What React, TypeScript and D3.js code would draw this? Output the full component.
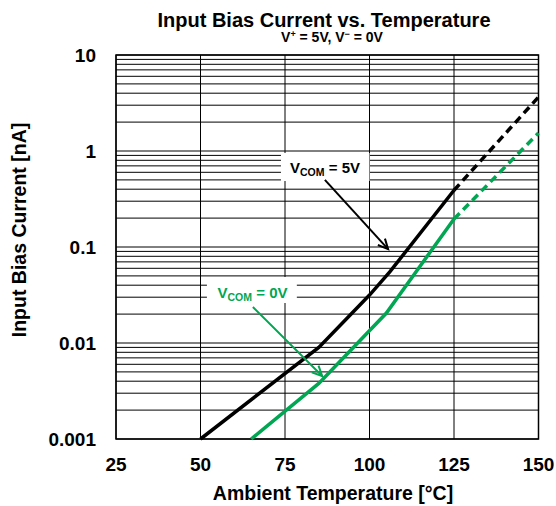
import * as d3 from 'd3';

const W = 556;
const H = 506;
const left = 116;
const right = 538.5;
const top = 55;
const bottom = 439;

// V_COM = 5V (black)
const tempBlack = [50, 85, 100, 106, 125];
const biasBlack = [0.001, 0.009, 0.0316, 0.055, 0.39];
const tempBlackDash = [125, 150];
const biasBlackDash = [0.39, 3.65];

// V_COM = 0V (green)
const tempGreen = [65, 85, 105, 125];
const biasGreen = [0.001, 0.0038, 0.0205, 0.196];
const tempGreenDash = [125, 150];
const biasGreenDash = [0.196, 1.54];

const xTicks = [25, 50, 75, 100, 125, 150];
const yTicks = [10, 1, 0.1, 0.01, 0.001];
const yTickLabels = ['10', '1', '0.1', '0.01', '0.001'];

const GREEN = '#00a651';
const FONT = '"Liberation Sans", Arial, Helvetica, sans-serif';

const x = d3.scaleLinear().domain([25, 150]).range([left, right]);
const y = d3.scaleLog().domain([0.001, 10]).range([bottom, top]);

const zip = (ts: number[], vs: number[]) => ts.map((t, i) => [t, vs[i]] as [number, number]);

const line = d3
  .line<[number, number]>()
  .x((d) => x(d[0]))
  .y((d) => y(d[1]));

// minor grid values
const minorGrid: number[] = [];
for (let e = -3; e < 1; e++) {
  for (let m = 1; m <= 9; m++) minorGrid.push(m * Math.pow(10, e));
}

// annotation boxes / arrows in data coords
const boxBlack = { t0: 73.8, t1: 100, v0: 0.953, v1: 0.487 };
const boxGreen = { t0: 51.9, t1: 78.5, v0: 0.0487, v1: 0.0261 };
const arrowBlack = { t0: 86.8, v0: 0.5, t1: 105.5, v1: 0.095 };
const arrowGreen = { t0: 65.5, v0: 0.0237, t1: 86, v1: 0.00453 };

function Arrow({ a, color }: { a: any; color: string }) {
  const x0 = x(a.t0), y0 = y(a.v0), x1 = x(a.t1), y1 = y(a.v1);
  const ang = Math.atan2(y1 - y0, x1 - x0);
  const len = 11;
  const spread = 0.45;
  const p1 = [x1 - len * Math.cos(ang - spread), y1 - len * Math.sin(ang - spread)];
  const p2 = [x1 - len * Math.cos(ang + spread), y1 - len * Math.sin(ang + spread)];
  return (
    <g stroke={color} strokeWidth={2} fill="none">
      <line x1={x0} y1={y0} x2={x1} y2={y1} />
      <polyline points={`${p1[0]},${p1[1]} ${x1},${y1} ${p2[0]},${p2[1]}`} />
    </g>
  );
}

function Box({ b }: { b: any }) {
  return (
    <rect
      x={x(b.t0)}
      y={y(b.v0)}
      width={x(b.t1) - x(b.t0)}
      height={y(b.v1) - y(b.v0)}
      fill="#fff"
    />
  );
}

export default function App() {
  return (
    <svg
      width={W}
      height={H}
      style={{ position: 'absolute', left: 0, top: 0, background: '#fff' }}
      fontFamily={FONT}
      fontWeight="bold"
    >
      <rect width={W} height={H} fill="#fff" />
      <text x={324} y={26.5} textAnchor="middle" fontSize={20}>
        Input Bias Current vs. Temperature
      </text>
      <text x={332} y={42} textAnchor="middle" fontSize={14}>
        V<tspan fontSize={9} dy={-5}>+</tspan>
        <tspan dy={5}> = 5V, V</tspan>
        <tspan fontSize={9} dy={-5}>−</tspan>
        <tspan dy={5}> = 0V</tspan>
      </text>

      {/* grid */}
      <g stroke="#000" strokeWidth={1}>
        {minorGrid.map((v, i) => (
          <line key={'h' + i} x1={left} x2={right} y1={y(v)} y2={y(v)} />
        ))}
        {xTicks.map((t) => (
          <line key={'v' + t} x1={x(t)} x2={x(t)} y1={top} y2={bottom} />
        ))}
        <line x1={left} x2={right} y1={top} y2={top} />
        <rect x={left} y={top} width={right - left} height={bottom - top} fill="none" strokeWidth={1.5} />
      </g>

      <Box b={boxBlack} />
      <Box b={boxGreen} />

      {/* curves */}
      <path d={line(zip(tempBlack, biasBlack)) || ''} fill="none" stroke="#000" strokeWidth={3.5} />
      <path
        d={line(zip(tempBlackDash, biasBlackDash)) || ''}
        fill="none"
        stroke="#000"
        strokeWidth={3.5}
        strokeDasharray="8 5"
      />
      <path d={line(zip(tempGreen, biasGreen)) || ''} fill="none" stroke={GREEN} strokeWidth={3.5} />
      <path
        d={line(zip(tempGreenDash, biasGreenDash)) || ''}
        fill="none"
        stroke={GREEN}
        strokeWidth={3.5}
        strokeDasharray="8 5"
      />

      <Arrow a={arrowBlack} color="#000" />
      <Arrow a={arrowGreen} color={GREEN} />

      {/* labels */}
      <text x={325} y={173} textAnchor="middle" fontSize={15} fill="#000">
        V<tspan fontSize={10.5} dy={3}>COM</tspan>
        <tspan dy={-3}> = 5V</tspan>
      </text>
      <text x={252.5} y={298} textAnchor="middle" fontSize={15} fill={GREEN}>
        V<tspan fontSize={10.5} dy={3}>COM</tspan>
        <tspan dy={-3}> = 0V</tspan>
      </text>

      {/* y ticks */}
      {yTicks.map((v, i) => (
        <text key={'yt' + i} x={96} y={y(v)} dy="0.36em" textAnchor="end" fontSize={19}>
          {yTickLabels[i]}
        </text>
      ))}
      {/* x ticks */}
      {xTicks.map((t) => (
        <text key={'xt' + t} x={x(t)} y={471} textAnchor="middle" fontSize={19}>
          {t}
        </text>
      ))}
      <text x={333} y={500} textAnchor="middle" fontSize={19.5}>
        Ambient Temperature [°C]
      </text>
      <text transform={`translate(26,230) rotate(-90)`} textAnchor="middle" fontSize={19.5}>
        Input Bias Current [nA]
      </text>
    </svg>
  );
}
